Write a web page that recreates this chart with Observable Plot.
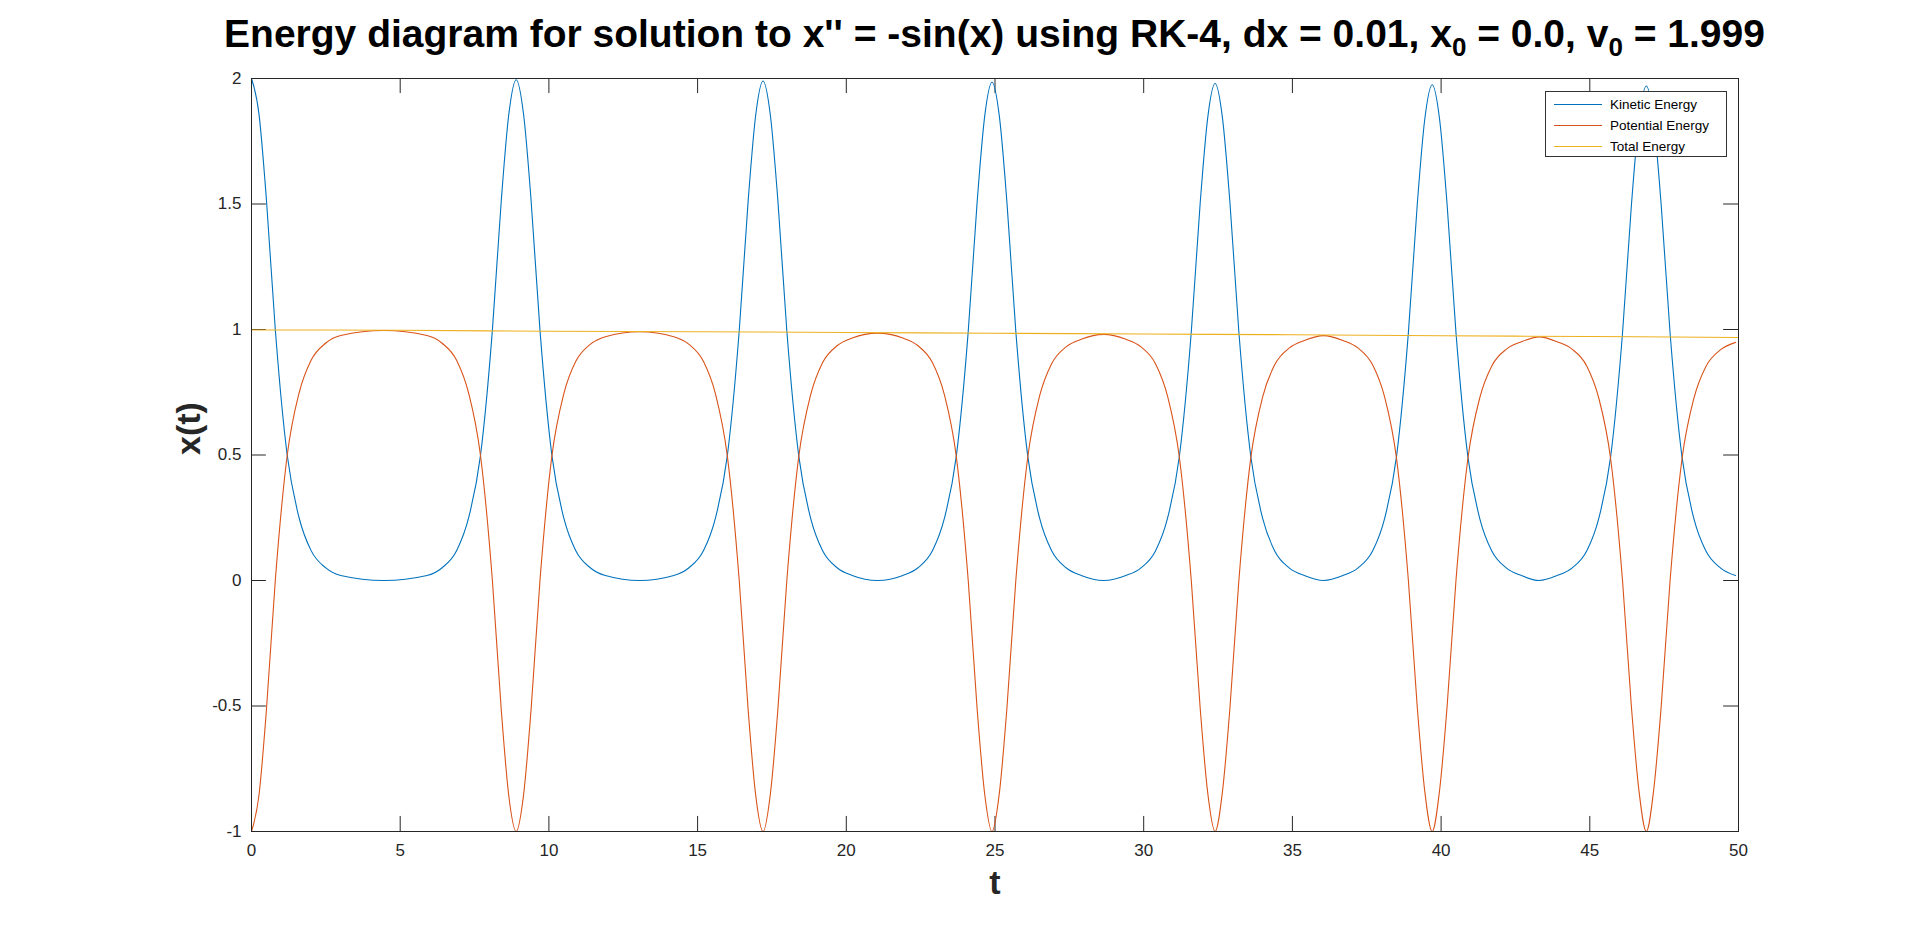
<!DOCTYPE html>
<html><head><meta charset="utf-8">
<script src="https://cdn.jsdelivr.net/npm/d3@7"></script>
<script src="https://cdn.jsdelivr.net/npm/@observablehq/plot@0.6"></script>
<style>
body{margin:0;background:#fff;font-family:"Liberation Sans",Arial,sans-serif;}
#wrap{position:relative;width:1920px;height:936px;}
#title{position:absolute;left:151px;width:1687px;top:12px;text-align:center;font-weight:bold;font-size:39px;color:#000;white-space:nowrap;}
#title sub{font-size:26px;}
#legend{position:absolute;left:1545px;top:91px;width:180px;height:64px;border:1px solid #333;background:#fff;font-size:13.5px;color:#000;}
.row{display:flex;align-items:center;height:20px;margin-top:1px;padding-left:8px;}
.sw{width:48px;height:0;border-top:1.3px solid;margin-right:8px;}
</style></head>
<body><div id="wrap"><div id="chart"></div>
<div id="title">Energy diagram for solution to x'' = -sin(x) using RK-4, dx = 0.01, x<sub>0</sub> = 0.0, v<sub>0</sub> = 1.999</div>
<div id="legend">
<div class="row" style="margin-top:2px"><div class="sw" style="border-color:#0072BD"></div>Kinetic Energy</div>
<div class="row"><div class="sw" style="border-color:#D95319"></div>Potential Energy</div>
<div class="row"><div class="sw" style="border-color:#EDB120"></div>Total Energy</div>
</div></div>
<script>
const peakTimes = [0, 8.9, 17.2, 24.9, 32.4, 39.7, 46.9];
const kePeaks   = [2.0, 1.995, 1.99, 1.985, 1.98, 1.975, 1.97];
const pePlateau = [0.998, 0.994, 0.988, 0.983, 0.978, 0.973, 0.968];
const offsets   = [0, 0.25, 0.5, 0.8, 1.2, 1.6, 2.0, 2.5, 3.0];
const keShape   = [1.0, 0.93, 0.76, 0.5, 0.25, 0.125, 0.06, 0.025, 0.01]; // fraction of peak
const peShape   = [-1.0, -0.86, -0.52, 0.0, 0.5, 0.75, 0.88, 0.95, 0.98]; // fraction of plateau
const totalT    = [0, 5, 10, 15, 20, 25, 30, 35, 40, 45, 50];
const totalE    = [0.998, 0.997, 0.993, 0.991, 0.988, 0.985, 0.982, 0.979, 0.975, 0.972, 0.968];
const xTicks = [0,5,10,15,20,25,30,35,40,45,50];
const yTicks = [-1,-0.5,0,0.5,1,1.5,2];

const ke = [], pe = [];
peakTimes.forEach((tp, i) => {
  const plat = pePlateau[i];
  const prevPlat = i > 0 ? pePlateau[i-1] : plat;
  const avg = (plat + prevPlat) / 2;
  for (let k = offsets.length - 1; k >= 1; k--) {
    const t = tp - offsets[k];
    if (t >= 0) {
      ke.push({t, v: kePeaks[i]*keShape[k]});
      pe.push({t, v: avg*peShape[k]});
    }
  }
  offsets.forEach((o, k) => {
    const t = tp + o;
    if (t <= 50) {
      ke.push({t, v: kePeaks[i]*keShape[k]});
      pe.push({t, v: k === 0 ? -1 : (i < peakTimes.length-1 ? (plat + pePlateau[i+1])/2 : plat)*peShape[k]});
    }
  });
  if (i < peakTimes.length-1) {
    const mid = (tp + peakTimes[i+1])/2;
    ke.push({t: mid, v: 0});
    pe.push({t: mid, v: (plat + pePlateau[i+1])/2});
  }
});
ke.sort((a,b)=>a.t-b.t); pe.sort((a,b)=>a.t-b.t);
const tot = totalT.map((t,i)=>({t, v: totalE[i]}));

const tk = 0.06, tkx = 0.5;
const plot = Plot.plot({
  width: 1920, height: 936,
  marginLeft: 251, marginRight: 182, marginTop: 78, marginBottom: 105,
  style: {fontFamily: "Liberation Sans, Arial, sans-serif", fontSize: "17px", color: "#262626"},
  x: {domain: [0, 50], ticks: xTicks, label: null},
  y: {domain: [-1, 2], ticks: yTicks, label: null},
  marks: [
    Plot.axisX(xTicks, {tickSize: 0, tickPadding: 12, fontSize: 17}),
    Plot.axisY(yTicks, {tickSize: 0, tickPadding: 10, fontSize: 17, tickFormat: d => String(d)}),
    Plot.ruleX(xTicks.slice(1,-1), {x: d=>d, y1: -1, y2: -1+tk, stroke: "#262626"}),
    Plot.ruleX(xTicks.slice(1,-1), {x: d=>d, y1: 2, y2: 2-tk, stroke: "#262626"}),
    Plot.ruleY(yTicks.slice(1,-1), {y: d=>d, x1: 0, x2: tkx, stroke: "#262626"}),
    Plot.ruleY(yTicks.slice(1,-1), {y: d=>d, x1: 50, x2: 50-tkx, stroke: "#262626"}),
    Plot.line(ke, {x: "t", y: "v", stroke: "#0072BD", strokeWidth: 1.1, curve: "monotone-x"}),
    Plot.line(pe, {x: "t", y: "v", stroke: "#D95319", strokeWidth: 1.1, curve: "monotone-x"}),
    Plot.line(tot, {x: "t", y: "v", stroke: "#EDB120", strokeWidth: 1.1, curve: "monotone-x"}),
    Plot.frame({stroke: "#262626"}),
    Plot.text(["t"], {frameAnchor: "bottom", dy: 62, text: d=>d, fontSize: 34, fontWeight: "bold", fill: "#262626"}),
    Plot.text(["x(t)"], {frameAnchor: "left", dx: -62, rotate: -90, text: d=>d, fontSize: 34, fontWeight: "bold", fill: "#262626"})
  ]
});
document.getElementById("chart").appendChild(plot);
</script></body></html>
